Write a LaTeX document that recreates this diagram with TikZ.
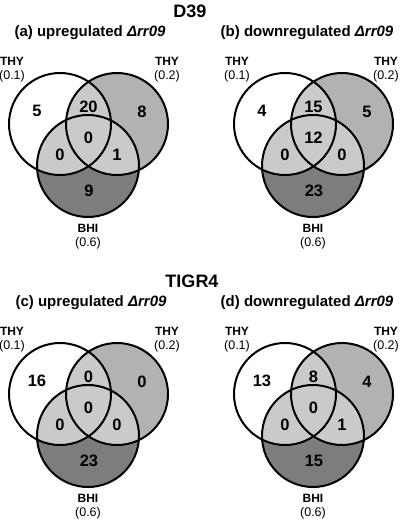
\documentclass[tikz,border=0pt]{standalone}
\usepackage{fontspec}
\setmainfont{Liberation Sans}
\definecolor{bonly}{RGB}{178,178,178}
\definecolor{ovl}{RGB}{202,202,202}
\definecolor{conly}{RGB}{125,125,125}
\tikzset{
  ring/.style={draw=black, line width=2pt},
  num/.style={font=\fontsize{16.5}{16.5}\selectfont\bfseries, inner sep=0pt},
  setlbl/.style={font=\fontsize{12}{12}\selectfont\bfseries, inner sep=0pt},
  setval/.style={font=\fontsize{12.5}{12.5}\selectfont, inner sep=0pt},
  ptitle/.style={font=\fontsize{15}{15}\selectfont\bfseries, inner sep=0pt},
  strain/.style={font=\fontsize{18}{18}\selectfont\bfseries, inner sep=0pt},
}
\newcommand\rlx{167}
% #1 prefix, #2 A only, #3 AB, #4 B only, #5 ABC, #6 AC, #7 BC, #8 C only
\newcommand\vennpanel[8]{%
  \coordinate (#1A) at (60,124);
  \coordinate (#1B) at (117,124);
  \coordinate (#1C) at (88,166);
  \fill[bonly] (#1B) circle[radius=51pt];
  \fill[conly] (#1C) circle[radius=51pt];
  \begin{scope}
    \clip (#1A) circle[radius=51pt];
    \fill[ovl] (#1B) circle[radius=51pt];
    \fill[ovl] (#1C) circle[radius=51pt];
  \end{scope}
  \begin{scope}
    \clip (#1B) circle[radius=51pt];
    \fill[ovl] (#1C) circle[radius=51pt];
  \end{scope}
  \draw[ring] (#1A) circle[radius=51pt];
  \draw[ring] (#1B) circle[radius=51pt];
  \draw[ring] (#1C) circle[radius=51pt];
  \node[num] (#1nA) at (37,111) {#2};
  \node[num] (#1nAB) at (88.5,107) {#3};
  \node[num] (#1nB) at (142,112) {#4};
  \node[num] (#1nABC) at (88.5,138) {#5};
  \node[num] (#1nAC) at (60,155) {#6};
  \node[num] (#1nBC) at (117,155) {#7};
  \node[num] (#1nC) at (89,191) {#8};
  \node[setlbl] (#1la) at (12,61) {THY};
  \node[setval] (#1lav) at (12,76) {(0.1)};
  \node[setlbl] (#1lb) at (\rlx,61) {THY};
  \node[setval] (#1lbv) at (\rlx,76) {(0.2)};
  \node[setlbl] (#1lc) at (88,228) {BHI};
  \node[setval] (#1lcv) at (88,243) {(0.6)};
}
\begin{document}
\begin{tikzpicture}[x=1pt,y=-1pt]
\useasboundingbox (0,0) rectangle (400,523);
\fill[white] (0,0) rectangle (400,523);
\node[strain] (d39) at (190,11) {D39};
\node[strain] (tigr) at (192,281) {TIGR4};
\node[ptitle] (ta) at (90,33) {(a) upregulated \textit{Δrr09}};
\node[ptitle] (tb) at (307,33) {(b) downregulated \textit{Δrr09}};
\node[ptitle] (tc) at (91,303) {(c) upregulated \textit{Δrr09}};
\node[ptitle] (td) at (307,303) {(d) downregulated \textit{Δrr09}};
\begin{scope}
  \vennpanel{a}{5}{20}{8}{0}{0}{1}{9}
\end{scope}
\begin{scope}[shift={(0,270)}]
  \vennpanel{c}{16}{0}{0}{0}{0}{0}{23}
\end{scope}
\renewcommand\rlx{161}
\begin{scope}[shift={(225,0)}]
  \vennpanel{b}{4}{15}{5}{12}{0}{0}{23}
\end{scope}
\begin{scope}[shift={(225,270)}]
  \vennpanel{d}{13}{8}{4}{0}{0}{1}{15}
\end{scope}
\end{tikzpicture}
\end{document}
